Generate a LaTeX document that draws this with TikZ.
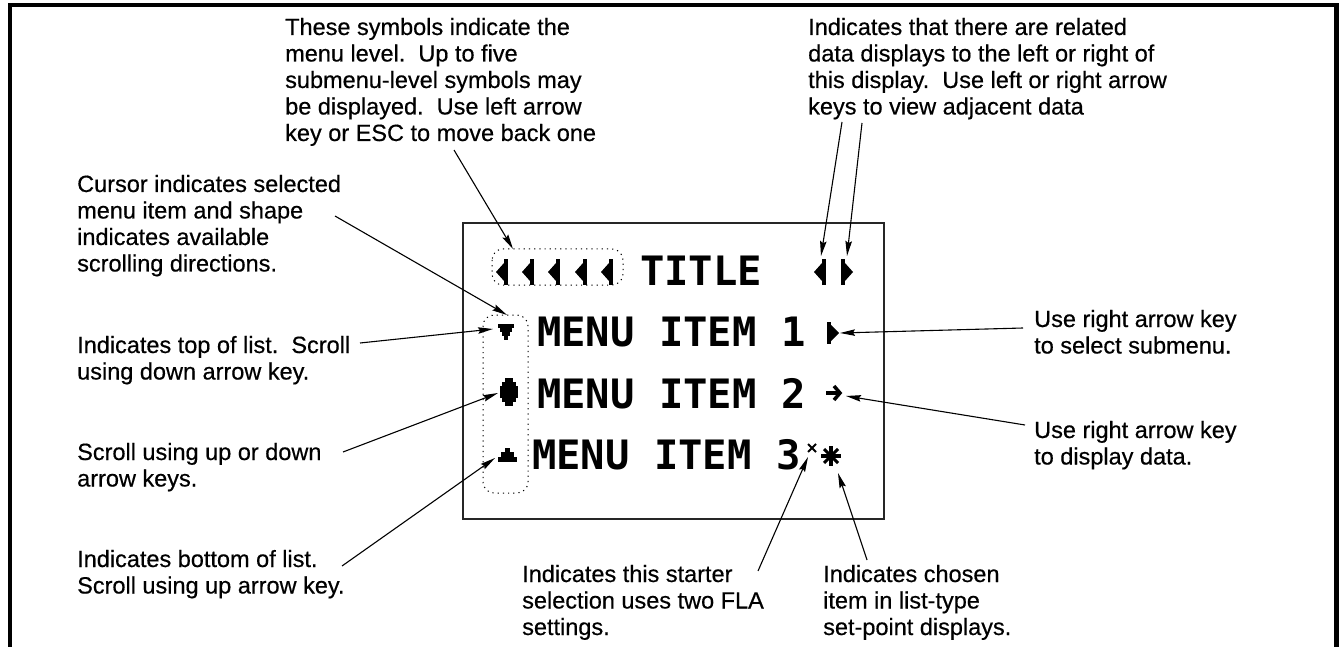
\documentclass[tikz,border=0pt]{standalone}
\usepackage{fontspec}
\setmainfont{Liberation Sans}[FakeBold=0.5]
\newfontfamily\lcd{DejaVu Sans Mono}
\usetikzlibrary{arrows.meta}
\newcommand\ml[1]{\vtop{\halign{##\hfil\cr#1\crcr}}}
\tikzset{
  lbl/.style={anchor=base west, inner sep=0pt, font=\fontsize{23.5}{26.5}\selectfont},
  lcdtext/.style={anchor=base west, inner sep=0pt, font=\fontsize{40.5}{44}\selectfont\lcd\bfseries},
  ptr/.style={line width=1.1pt, -{Stealth[length=15pt,width=6.5pt,inset=2pt]}},
  dotbox/.style={line width=1pt, dash pattern=on 1.2pt off 4pt, rounded corners=11pt},
  frame/.style={line width=4.5pt},
  screen/.style={line width=1.3pt, draw=black!85},
}
\begin{document}
\begin{tikzpicture}[x=1pt,y=-1pt]
\useasboundingbox (0,0) rectangle (1339,647);
% outer frame
\draw[frame] (10,650) -- (10,5) -- (1336.5,5) -- (1336.5,650);
% display
\draw[screen] (463,223) rectangle (884,519);
\draw[dotbox] (492,249) rectangle (623,285);
\draw[dotbox] (483,315) rectangle (528,493);
% display text
\node[lcdtext] (title) at (640,285) {TITLE};
\node[lcdtext] (item1) at (537,346) {MENU ITEM 1};
\node[lcdtext] (item2) at (537,408) {MENU ITEM 2};
\node[lcdtext] (item3) at (532,469) {MENU ITEM 3};
% menu-level symbols
\foreach \cx in {503,529,555,582,608}{
  \fill (\cx-7,272) -- (\cx+1,263) -- (\cx+1,281) -- cycle;
  \fill (\cx+1,259) rectangle (\cx+5,285);
}
% left / right data symbols
\fill (814,272) -- (822,263) -- (822,281) -- cycle;
\fill (822,259) rectangle (826,285);
\fill (853,272) -- (845,263) -- (845,281) -- cycle;
\fill (841,259) rectangle (845,285);
% row 1 submenu symbol
\fill (827,322) rectangle (831,344);
\fill (839,333) -- (831,325) -- (831,341) -- cycle;
% row 2 data arrow
\draw[line width=3.5pt] (826,393) -- (840,393);
\draw[line width=3.5pt] (834,386) -- (840,393) -- (834,400);
% cursor symbols: top of list
\fill (498,324) rectangle (514,328);
\fill (500,328) rectangle (512,332);
\fill (502,332) rectangle (510,336);
\fill (504,336) rectangle (508,340);
% middle of list
\fill (505,378) rectangle (513,382);
\fill (502,382) rectangle (516,386);
\fill (500,386) rectangle (518,398);
\fill (502,398) rectangle (516,402);
\fill (505,402) rectangle (513,406);
% bottom of list
\fill (505,448) rectangle (510,452);
\fill (501,452) rectangle (514,457);
\fill (498,457) rectangle (517,462);
% FLA and chosen symbols
\draw[line width=1.8pt] (808,444) -- (816,452) (808,452) -- (816,444);
\draw[line width=4pt] (831,446) -- (831,466) (821,456) -- (841,456);
\draw[line width=3pt] (824,449) -- (838,463) (824,463) -- (838,449);
% labels
\node[lbl] (tLevel) at (285,35) {\ml{These symbols indicate the\cr menu level.\ \ Up to five\cr submenu-level symbols may\cr be displayed.\ \ Use left arrow\cr key or ESC to move back one}};
\node[lbl] (tRelated) at (808,35) {\ml{Indicates that there are related\cr data displays to the left or right of\cr this display.\ \ Use left or right arrow\cr keys to view adjacent data}};
\node[lbl] (tCursor) at (77,192) {\ml{Cursor indicates selected\cr menu item and shape\cr indicates available\cr scrolling directions.}};
\node[lbl] (tTop) at (77,353) {\ml{Indicates top of list.\ \ Scroll\cr using down arrow key.}};
\node[lbl] (tScroll) at (77,460) {\ml{Scroll using up or down\cr arrow keys.}};
\node[lbl] (tBottom) at (77,567) {\ml{Indicates bottom of list.\cr Scroll using up arrow key.}};
\node[lbl] (tStarter) at (522,582) {\ml{Indicates this starter\cr selection uses two FLA\cr settings.}};
\node[lbl] (tChosen) at (823,582) {\ml{Indicates chosen\cr item in list-type\cr set-point displays.}};
\node[lbl] (tSub) at (1034,327) {\ml{Use right arrow key\cr to select submenu.}};
\node[lbl] (tData) at (1034,438) {\ml{Use right arrow key\cr to display data.}};
% connector ends
\coordinate (s1) at (454,150); \coordinate (e1) at (513,249);
\coordinate (s2) at (842,122); \coordinate (e2) at (821,256);
\coordinate (s3) at (862,123); \coordinate (e3) at (847,256);
\coordinate (s4) at (335,216); \coordinate (e4) at (507,315);
\coordinate (s5) at (360,343); \coordinate (e5) at (493,329);
\coordinate (s6) at (343,452); \coordinate (e6) at (498,393);
\coordinate (s7) at (342,566); \coordinate (e7) at (495,458);
\coordinate (s8) at (1023,328); \coordinate (e8) at (840,333);
\coordinate (s9) at (1025,425); \coordinate (e9) at (846,396);
\coordinate (s10) at (758,571); \coordinate (e10) at (808,457);
\coordinate (s11) at (867,560); \coordinate (e11) at (838,473);
\foreach \i in {1,...,11}{\draw[ptr] (s\i) -- (e\i);}
\end{tikzpicture}
\end{document}
